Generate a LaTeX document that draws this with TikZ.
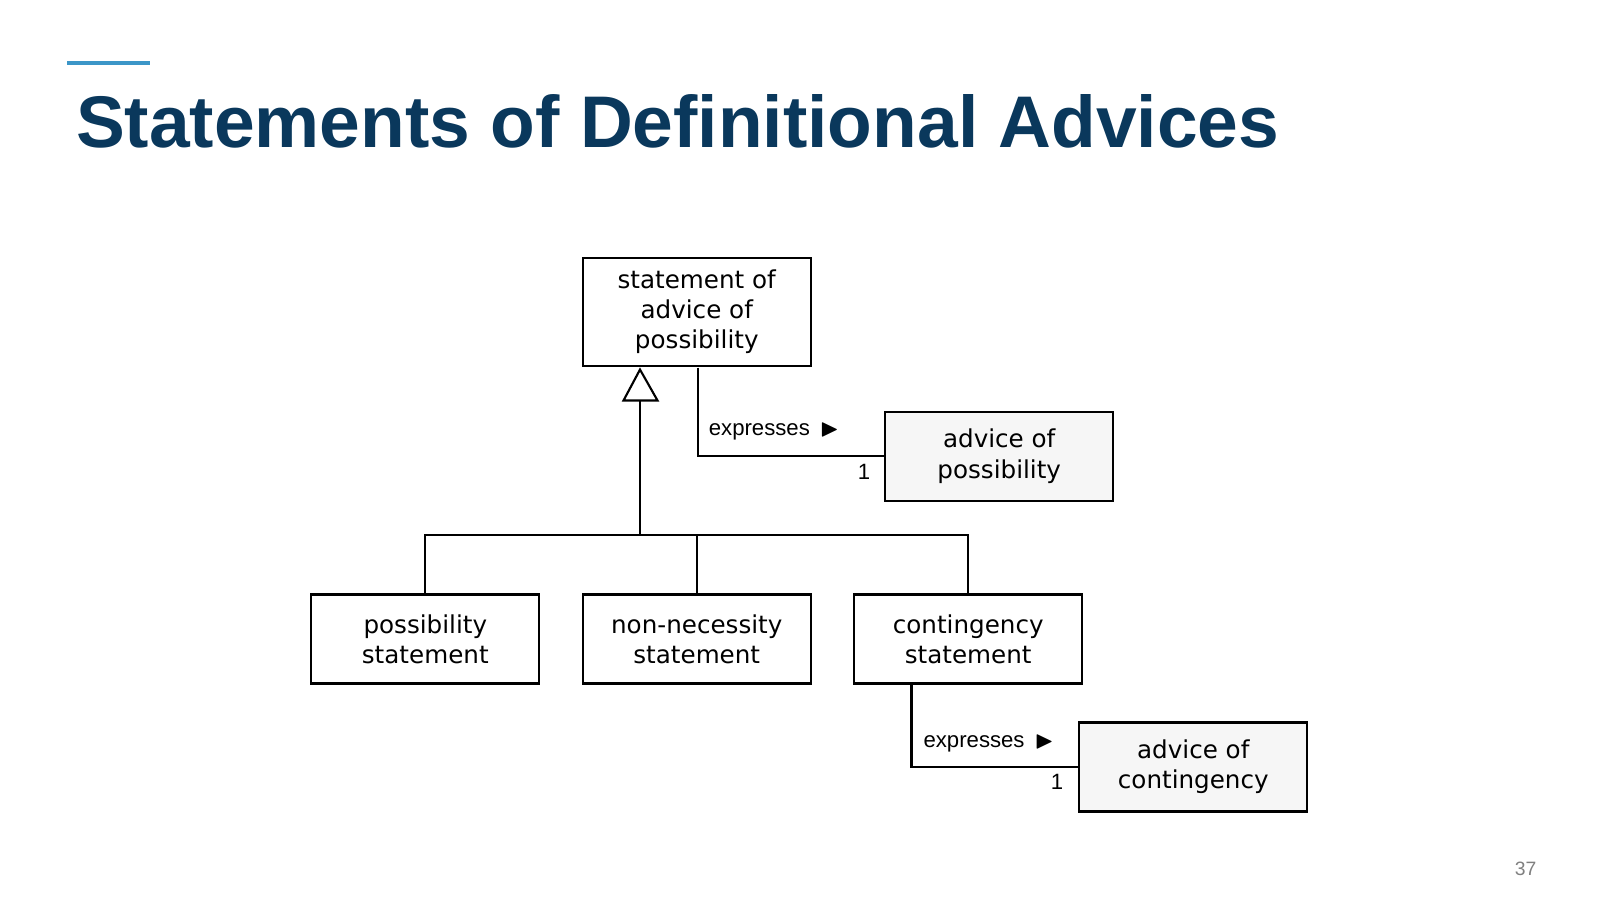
\documentclass[tikz,border=0pt]{standalone}
\usepackage{amssymb}
\usepackage{fontspec}
\setmainfont{DejaVu Sans}
\newfontfamily\titlefont{Liberation Sans}
\usetikzlibrary{arrows.meta}
\definecolor{titleblue}{RGB}{10,56,92}
\definecolor{accentblue}{RGB}{60,150,200}
\definecolor{boxgray}{RGB}{246,246,246}
\tikzset{
  cls/.style={draw,line width=0.6pt,minimum width=2.28cm,minimum height=0.89cm,
    align=center,inner sep=1pt,font=\fontsize{7}{8.6}\selectfont},
  assoc/.style={font=\titlefont\fontsize{6.3}{7}\selectfont,inner sep=0pt},
  link/.style={line width=0.6pt},
}
\begin{document}
\begin{tikzpicture}[x=0.01032cm,y=-0.01032cm]
\useasboundingbox (0,0) rectangle (1550,872);

% slide title
\draw[accentblue,line width=1.2pt] (65,61) -- (145,61);
\node[anchor=base west,inner sep=0pt,text=titleblue,font=\titlefont\bfseries\fontsize{20.8}{22}\selectfont] (title) at (73,143) {Statements of Definitional Advices};
\node[text=gray,font=\titlefont\fontsize{5.5}{6}\selectfont] (page) at (1478,842) {37};

% classes
\node[cls,minimum height=1.08cm] (soap) at (675,302) {statement of\\advice of\\possibility};
\node[cls,fill=boxgray] (aop) at (968,442) {advice of\\possibility};
\node[cls] (ps) at (412,619) {possibility\\statement};
\node[cls] (nns) at (675,619) {non-necessity\\statement};
\node[cls] (cs) at (938,619) {contingency\\statement};
\node[cls,fill=boxgray] (aoc) at (1156,743) {advice of\\contingency};

% generalization
\coordinate (apex) at (620,358);
\coordinate (base) at (620,388);
\coordinate (fork) at (620,518);
\draw[link] (apex) -- ++(-16,30) -- ++(33,0) -- cycle;
\draw[link] (base) -- (fork);
\draw[link] (ps.north) |- (fork) -| (cs.north);
\draw[link] (nns.north) -- (nns.north |- fork);

% associations
\coordinate (s1) at (676,356);
\coordinate (s2) at (883,663);
\draw[link] (s1) |- (aop.west);
\node[assoc] (ex1) at (750,418) {expresses \,$\blacktriangleright$};
\node[assoc] (m1) at (837,457) {1};
\draw[link] (s2) |- (aoc.west);
\node[assoc] (ex2) at (958,720) {expresses \,$\blacktriangleright$};
\node[assoc] (m2) at (1024,757) {1};
\end{tikzpicture}
\end{document}
